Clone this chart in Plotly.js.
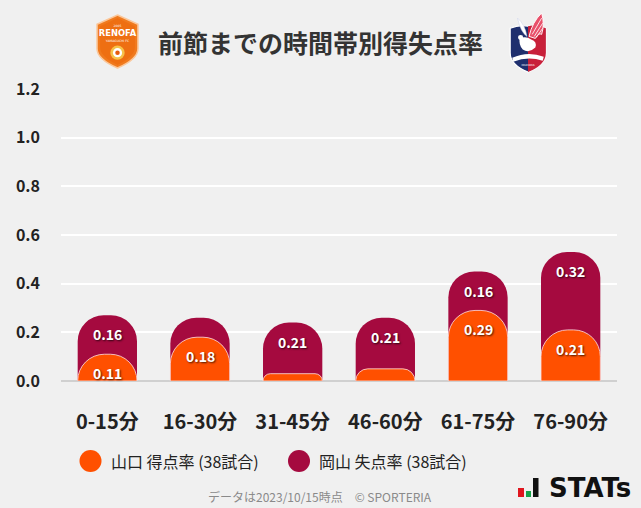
<!DOCTYPE html>
<html>
<head>
<meta charset="utf-8">
<script src="https://cdn.plot.ly/plotly-3.0.1.min.js"></script>
<style>
html,body{margin:0;padding:0;background:#f0f0f0;}
#chart{width:641px;height:508px;}
</style>
</head>
<body>
<div id="chart"></div>
<script>
// ---- data ----
const categories = ['0-15分', '16-30分', '31-45分', '46-60分', '61-75分', '76-90分'];
const yamaguchiScored = [0.11, 0.18, 0.03, 0.05, 0.29, 0.21];   // 山口 得点率
const okayamaConceded = [0.16, 0.08, 0.21, 0.21, 0.16, 0.32];   // 岡山 失点率
const yTicks = [0, 0.2, 0.4, 0.6, 0.8, 1.0, 1.2];
const yTickLabels = ['0.0', '0.2', '0.4', '0.6', '0.8', '1.0', '1.2'];
const seriesNames = ['山口 得点率 (38試合)', '岡山 失点率 (38試合)'];

// ---- layout helpers ----
const W = 641, H = 508;
const M = {l: 61, r: 24, t: 89, b: 127};
const PW = W - M.l - M.r, PH = H - M.t - M.b;
const px = x => (x - M.l) / PW;
const py = y => (H - M.b - y) / PH;

const ORANGE = '#ff5000';
const CRIMSON = '#a50a3f';
const FONT = '"Noto Sans CJK JP", "Noto Sans", sans-serif';

const totals = yamaguchiScored.map((v, i) => +(v + okayamaConceded[i]).toFixed(2));

const traces = [
  {
    type: 'bar', x: categories, y: totals, xaxis: 'x', yaxis: 'y',
    name: seriesNames[1], showlegend: false,
    marker: {color: CRIMSON, line: {width: 0}, cornerradius: '45%'},
    hoverinfo: 'skip'
  },
  {
    type: 'bar', x: categories, y: yamaguchiScored, xaxis: 'x2', yaxis: 'y',
    name: seriesNames[0], showlegend: false,
    marker: {color: ORANGE, line: {width: 1, color: 'rgba(255,225,225,0.8)'}, cornerradius: '45%'},
    hoverinfo: 'skip'
  }
];

// value labels, anchored to the top of each bar segment via the data axes
const valueFont = {family: FONT, size: 14, color: '#ffffff', weight: 700, shadow: '1px 1px 2px rgba(0,0,0,0.7)'};
const valueLabels = [];
categories.forEach((c, i) => {
  if (okayamaConceded[i] >= 0.1) valueLabels.push({
    text: okayamaConceded[i].toFixed(2), xref: 'x', yref: 'y', x: c, y: totals[i],
    yshift: -19, xanchor: 'center', yanchor: 'middle', showarrow: false, font: valueFont});
  if (yamaguchiScored[i] >= 0.1) valueLabels.push({
    text: yamaguchiScored[i].toFixed(2), xref: 'x', yref: 'y', x: c, y: yamaguchiScored[i],
    yshift: -19, xanchor: 'center', yanchor: 'middle', showarrow: false, font: valueFont});
});

function svgURI(s) { return 'data:image/svg+xml;charset=utf-8,' + encodeURIComponent(s); }

const renofaSVG = `<svg xmlns="http://www.w3.org/2000/svg" width="44" height="54" viewBox="0 0 44 54">
<path d="M22 1 L42 10 L42 34 Q42 44 22 53 Q2 44 2 34 L2 10 Z" fill="#f07a1e" stroke="#fbc79a" stroke-width="1.5"/>
<path d="M22 4 L39 12 L39 33 Q39 42 22 50 Q5 42 5 33 L5 12 Z" fill="#ee6f12"/>
<text x="22" y="13" font-family="DejaVu Sans" font-size="3" fill="#fff" text-anchor="middle">2005</text>
<text x="22" y="22" font-family="DejaVu Sans" font-weight="bold" font-size="8.2" fill="#fff" text-anchor="middle">RENOFA</text>
<text x="22" y="27" font-family="DejaVu Sans" font-size="3" fill="#fff" text-anchor="middle">YAMAGUCHI FC</text>
<circle cx="22" cy="38" r="7" fill="#f6c14a"/>
<circle cx="22" cy="38" r="4.5" fill="#ffffff"/>
<circle cx="22" cy="38" r="2.2" fill="#e65b0c"/>
</svg>`;

const okayamaSVG = `<svg xmlns="http://www.w3.org/2000/svg" width="40" height="60" viewBox="0 0 40 60">
<path d="M3 16 Q12 12 20 14 Q28 12 37 16 L37 40 Q37 52 20 59 Q3 52 3 40 Z" fill="#1f2f6e" stroke="#ffffff" stroke-width="1.2"/>
<path d="M20 14 Q28 12 37 16 L37 40 Q37 52 20 59 Z" fill="#c8203a"/>
<path d="M21 24 Q24 10 33 1 Q36 12 33 22 Q30 20 27 26 Z" fill="#e8506a" stroke="#ffffff" stroke-width="0.9"/>
<path d="M24 22 L33 6 M26 24 L34 11 M28 25 L34 16" stroke="#ffffff" stroke-width="0.8"/>
<path d="M10 6 Q17 12 19 24 Q13 20 10 6 Z" fill="#ffffff" stroke="#ccd3ea" stroke-width="0.5"/>
<path d="M12 26 Q11 32 15 37 Q21 41 27 35 Q29 29 23 27 Q18 23 12 26 Z" fill="#ffffff"/>
<circle cx="13" cy="25" r="2.4" fill="#ffffff"/>
<path d="M5 45 Q20 38 35 44 L34 48 Q20 43 6 49 Z" fill="#ffffff"/>
<text x="20" y="53" font-family="DejaVu Sans" font-size="2.6" fill="#fff" text-anchor="middle">OKAYAMA</text>
</svg>`;

const annotations = valueLabels.concat([
  {text: '前節までの時間帯別得失点率', xref: 'paper', yref: 'paper', x: px(320), y: py(42),
   xanchor: 'center', yanchor: 'middle', showarrow: false,
   font: {family: FONT, size: 25, color: '#333333', weight: 700}},
  {text: seriesNames[0], xref: 'paper', yref: 'paper', x: px(109), y: py(461),
   xanchor: 'left', yanchor: 'middle', showarrow: false,
   font: {family: FONT, size: 16, color: '#222222'}},
  {text: seriesNames[1], xref: 'paper', yref: 'paper', x: px(317), y: py(461),
   xanchor: 'left', yanchor: 'middle', showarrow: false,
   font: {family: FONT, size: 16, color: '#222222'}},
  {text: 'データは2023/10/15時点　© SPORTERIA', xref: 'paper', yref: 'paper', x: px(320), y: py(496),
   xanchor: 'center', yanchor: 'middle', showarrow: false,
   font: {family: FONT, size: 12, color: '#8a8a8a'}},
  {text: 'STATs', xref: 'paper', yref: 'paper', x: px(547), y: py(488),
   xanchor: 'left', yanchor: 'middle', showarrow: false,
   font: {family: '"DejaVu Sans", sans-serif', size: 26, color: '#111111', weight: 700}}
]);

const rect = (x0, y0, x1, y1, c) => ({type: 'rect', xref: 'paper', yref: 'paper',
  x0: px(x0), x1: px(x1), y0: py(y1), y1: py(y0), fillcolor: c, line: {width: 0}, layer: 'above'});
const circ = (cx, cy, r, c) => ({type: 'circle', xref: 'paper', yref: 'paper',
  x0: px(cx - r), x1: px(cx + r), y0: py(cy + r), y1: py(cy - r), fillcolor: c, line: {width: 0}, layer: 'above'});

const shapes = [
  circ(90.5, 461, 11, ORANGE),
  circ(299, 461, 11, CRIMSON),
  rect(518, 488, 524, 497, '#e0161e'),
  rect(526, 491, 531, 497, '#17a34a'),
  rect(533, 478, 538.5, 497, '#111111')
];

const images = [
  {source: svgURI(renofaSVG), xref: 'paper', yref: 'paper', x: px(95), y: py(14),
   sizex: px(140) - px(95), sizey: py(14) - py(69), xanchor: 'left', yanchor: 'top', sizing: 'stretch', layer: 'above'},
  {source: svgURI(okayamaSVG), xref: 'paper', yref: 'paper', x: px(507), y: py(12),
   sizex: px(549) - px(507), sizey: py(12) - py(73), xanchor: 'left', yanchor: 'top', sizing: 'stretch', layer: 'above'}
];

const xTickFont = {family: FONT, size: 20, color: '#222222', weight: 700};

const layout = {
  width: W, height: H,
  margin: M,
  paper_bgcolor: '#f0f0f0', plot_bgcolor: '#f0f0f0',
  barmode: 'overlay', bargap: 0.36,
  showlegend: false,
  font: {family: FONT},
  xaxis: {
    type: 'category', categoryorder: 'array', categoryarray: categories,
    showgrid: false, zeroline: false, showline: false, ticks: '',
    ticklabelstandoff: 27,
    tickfont: xTickFont,
    fixedrange: true
  },
  xaxis2: {
    type: 'category', categoryorder: 'array', categoryarray: categories,
    overlaying: 'x', matches: 'x', visible: false,
    showgrid: false, zeroline: false, showline: false, ticks: '',
    fixedrange: true
  },
  yaxis: {
    range: [0, 1.2],
    tickvals: yTicks, ticktext: yTickLabels,
    showgrid: true, gridcolor: '#ffffff', gridwidth: 2,
    zeroline: true, zerolinecolor: '#d0d0d0', zerolinewidth: 2,
    showline: false, ticks: '',
    ticklabelstandoff: 20,
    tickfont: {family: FONT, size: 16, color: '#222222', weight: 700},
    fixedrange: true
  },
  annotations, shapes, images
};

Plotly.newPlot('chart', traces, layout, {staticPlot: true, displayModeBar: false});
</script>
</body>
</html>
